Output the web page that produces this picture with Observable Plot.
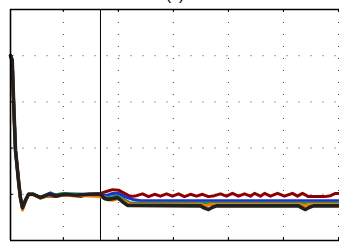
<!DOCTYPE html>
<html>
<head>
<meta charset="utf-8">
<script src="https://cdn.jsdelivr.net/npm/d3@7"></script>
<script src="https://cdn.jsdelivr.net/npm/@observablehq/plot@0.6"></script>
<style>
  html, body { margin: 0; padding: 0; background: white; }
  svg { overflow: hidden; }
</style>
</head>
<body>
<div id="chart"></div>
<script>
// ---- data (time, response) ----
const xTicks = [1, 2, 3, 4, 5, 6];
const yTicks = [1, 2, 3, 4];
const xDomain = [0.04, 6.06];
const yDomain = [0, 5];
const switchTime = [1.675];
const titleText = ["(c)"];

const tHead = [0.04, 0.071, 0.100, 0.131, 0.191, 0.222];
const yHead = [4.00, 3.90, 2.88, 1.95, 1.23, 0.91];

const tRed = [0.258,0.313,0.367,0.458,0.585,0.730,0.858,0.985,1.221,1.312,1.457,1.675,
  1.784,1.894,2.003,2.112,2.220,2.330,2.439,2.548,2.657,2.766,2.875,2.984,3.093,3.202,3.311,
  3.420,3.529,3.638,3.747,3.856,3.965,4.074,4.183,4.292,4.401,4.474,4.583,4.656,4.765,4.892,
  5.019,5.164,5.255,5.346,5.455,5.601,5.746,5.855,5.946,6.06];
const yRed = [0.71,0.87,1.00,1.00,0.93,0.97,0.95,0.98,0.97,0.95,1.00,1.02,
  1.06,1.10,1.09,1.02,0.95,0.97,1.01,0.95,1.00,0.96,1.01,0.96,1.01,0.95,1.00,
  0.96,1.00,0.95,0.97,1.01,0.96,1.02,0.96,1.01,0.96,1.02,0.96,1.02,0.96,1.02,
  0.96,1.02,0.96,1.02,0.95,0.95,0.95,0.97,1.02,1.02];

const tBlue = [0.258,0.313,0.367,0.458,0.585,0.767,0.876,1.039,1.457,1.675,1.784,1.894,2.003,2.112,2.257,2.402,6.06];
const yBlue = [0.71,0.87,1.00,1.00,0.93,1.03,0.97,1.00,1.00,1.00,0.97,1.02,1.02,0.95,0.89,0.86,0.86];

const tGreen = [0.258,0.313,0.367,0.458,0.585,0.767,0.985,1.312,1.457,1.675,1.821,1.966,2.075,2.220,6.06];
const yGreen = [0.71,0.87,1.00,1.00,0.93,0.97,1.02,1.00,0.97,0.97,0.93,0.97,0.91,0.81,0.81];

const tOrange = [0.258,0.313,0.367,0.458,0.585,0.730,0.876,1.039,1.221,1.457,1.600,1.675,1.784,1.894,2.003,2.112,2.220,3.493,3.584,3.675,5.310,5.383,5.455,6.06];
const yOrange = [0.66,0.85,0.99,0.99,0.91,0.98,0.97,0.98,0.97,0.97,0.96,0.95,0.89,0.87,0.91,0.84,0.78,0.78,0.75,0.78,0.78,0.75,0.78,0.78];

const tBlack = [0.258,0.313,0.367,0.458,0.585,0.730,0.876,1.039,1.221,1.457,1.675,1.748,1.821,1.912,1.984,2.075,2.166,3.493,3.566,3.638,3.711,3.784,5.274,5.346,5.401,5.474,5.547,6.06];
const yBlack = [0.71,0.87,1.00,1.00,0.93,1.00,0.97,1.00,0.98,1.00,1.00,0.91,0.89,0.91,0.93,0.84,0.76,0.75,0.70,0.67,0.72,0.75,0.75,0.70,0.67,0.72,0.75,0.75];

const seriesNames = ["red", "blue", "green", "orange", "black"];
const seriesColors = ["#8b0000", "#1f2fd6", "#2e8b57", "#f07c00", "#231f1c"];
const seriesWidths = [3, 3, 3, 3, 3.6];
const seriesT = [tRed, tBlue, tGreen, tOrange, tBlack];
const seriesY = [yRed, yBlue, yGreen, yOrange, yBlack];

function build(i) {
  const head = tHead.map((t, j) => ({t, v: yHead[j]}));
  const tail = seriesT[i].map((t, j) => ({t, v: seriesY[i][j]}));
  return head.concat(tail);
}

const tickLenX = 0.065; // in y units
const tickLenY = 0.06;  // in x units

const lineMarks = seriesNames.map((n, i) =>
  Plot.line(build(i), {x: "t", y: "v", stroke: seriesColors[i], strokeWidth: seriesWidths[i],
    strokeLinejoin: "round", strokeLinecap: "round", curve: "linear"}));

const chart = Plot.plot({
  width: 339,
  height: 242,
  marginLeft: 10,
  marginTop: 9,
  marginBottom: 2,
  marginRight: 0,
  style: {background: "white", fontFamily: "Liberation Sans, Arial, sans-serif"},
  x: {domain: xDomain, range: [10, 10 + (xDomain[1] - xDomain[0]) * 55.03], axis: null},
  y: {domain: yDomain, range: [240, 9], axis: null},
  marks: [
    // dotted grid
    Plot.ruleX(xTicks, {y1: yDomain[0], y2: yDomain[1], stroke: "#444", strokeWidth: 1, strokeDasharray: "1,11", strokeDashoffset: -1}),
    Plot.ruleY(yTicks, {x1: xDomain[0], x2: xDomain[1], stroke: "#444", strokeWidth: 1, strokeDasharray: "1,11", strokeDashoffset: -0.5}),
    // tick marks
    Plot.ruleX(xTicks, {y1: yDomain[1], y2: yDomain[1] - tickLenX, stroke: "black", strokeWidth: 1}),
    Plot.ruleX(xTicks, {y1: yDomain[0], y2: yDomain[0] + tickLenX, stroke: "black", strokeWidth: 1}),
    Plot.ruleY(yTicks, {x1: xDomain[0], x2: xDomain[0] + tickLenY, stroke: "black", strokeWidth: 1}),
    // switching instant
    Plot.ruleX(switchTime, {y1: yDomain[0], y2: yDomain[1], stroke: "black", strokeWidth: 1}),
    ...lineMarks,
    // axes box
    Plot.ruleY(yDomain, {x1: xDomain[0], x2: xDomain[1], stroke: "black", strokeWidth: 1.4}),
    Plot.ruleX([xDomain[0]], {y1: yDomain[0], y2: yDomain[1], stroke: "black", strokeWidth: 1.6}),
    // title (mostly cropped)
    Plot.text(titleText, {frameAnchor: "top", dy: -9.5, lineAnchor: "bottom", fontSize: 16, fill: "black"})
  ]
});
document.getElementById("chart").appendChild(chart);
</script>
</body>
</html>
